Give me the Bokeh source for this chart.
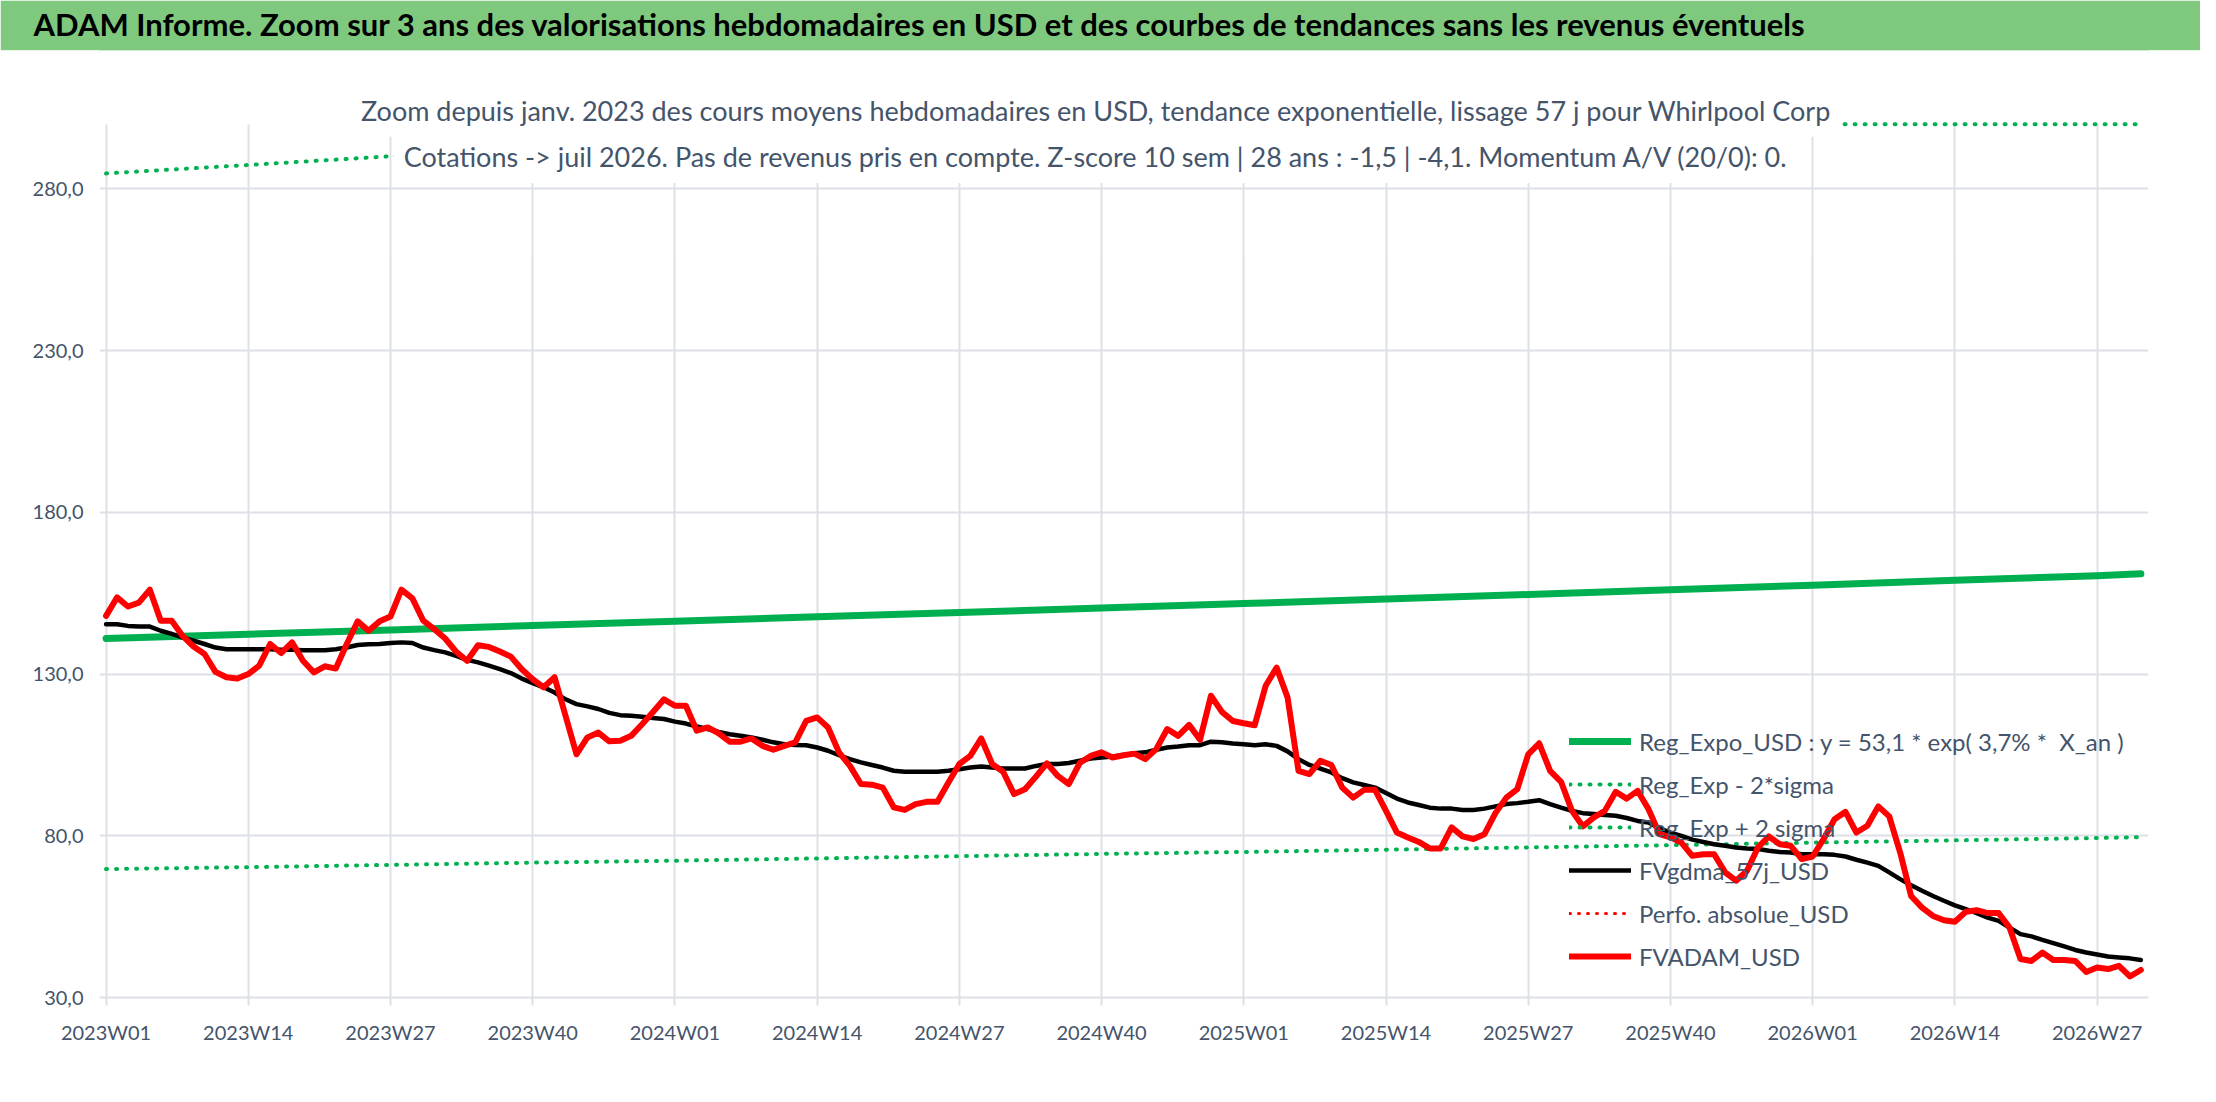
from bokeh.plotting import figure
from bokeh.models import Range1d, Label, Legend, LegendItem, Title
from bokeh.layouts import column
from bokeh.embed import file_html
from bokeh.resources import INLINE

# ---------------- texts ----------------
title_text = ("ADAM Informe. Zoom sur 3 ans des valorisations hebdomadaires en USD "
              "et des courbes de tendances sans les revenus éventuels")
subtitle_1 = ("Zoom depuis janv. 2023 des cours moyens hebdomadaires en USD, tendance "
              "exponentielle, lissage 57 j pour Whirlpool Corp")
subtitle_2 = ("Cotations -> juil 2026. Pas de revenus pris en compte. Z-score 10 sem | "
              "28 ans : -1,5 | -4,1. Momentum A/V (20/0): 0.")

legend_labels = ["Reg_Expo_USD : y = 53,1 * exp( 3,7% *  X_an )",
                 "Reg_Exp - 2*sigma",
                 "Reg_Exp + 2 sigma",
                 "FVgdma_57j_USD",
                 "Perfo. absolue_USD",
                 "FVADAM_USD"]

# ---------------- axes ----------------
week_tick_labels = ["2023W01", "2023W14", "2023W27", "2023W40",
                    "2024W01", "2024W14", "2024W27", "2024W40",
                    "2025W01", "2025W14", "2025W27", "2025W40",
                    "2026W01", "2026W14", "2026W27"]
y_tick_values = [30, 80, 130, 180, 230, 280]
y_tick_labels = ["30,0", "80,0", "130,0", "180,0", "230,0", "280,0"]

# ---------------- series (weekly, from 2023W01) ----------------
fvadam_usd = [
    148.0, 153.7, 150.9, 152.1, 156.1, 146.5, 146.5, 141.8, 138.5, 136.2,
    130.7, 129.0, 128.6, 130.0, 132.6, 139.3, 136.5, 139.8, 134.1, 130.5,
    132.4, 131.7, 139.3, 146.3, 143.4, 146.3, 147.8, 156.1, 153.4, 146.5,
    143.9, 141.0, 136.9, 134.1, 138.9, 138.4, 137.0, 135.4, 131.5, 128.4,
    125.9, 129.0, 117.1, 105.2, 110.4, 111.9, 109.2, 109.4, 110.9, 114.5,
    118.3, 122.2, 120.2, 120.2, 112.5, 113.5, 111.7, 109.1, 109.1, 110.1,
    107.8, 106.6, 107.8, 108.9, 115.5, 116.6, 113.5, 105.8, 101.6, 96.0,
    95.8, 94.9, 88.8, 88.0, 89.8, 90.5, 90.5, 96.5, 102.2, 104.7,
    110.1, 102.2, 99.8, 92.9, 94.4, 98.3, 102.4, 98.5, 96.0, 102.5,
    104.7, 105.8, 104.2, 104.9, 105.4, 103.7, 106.8, 113.0, 110.9, 114.3,
    109.7, 123.3, 118.3, 115.5, 114.8, 114.2, 126.4, 132.0, 122.8, 100.1,
    99.1, 103.2, 101.9, 94.9, 91.8, 94.2, 94.2, 87.7, 81.0, 79.5,
    78.1, 76.1, 76.1, 82.6, 79.8, 79.0, 80.5, 87.0, 91.8, 94.4,
    105.2, 108.6, 100.1, 96.7, 87.7, 82.9, 85.7, 87.7, 93.6, 91.5,
    93.9, 88.2, 80.5, 79.5, 77.9, 73.8, 74.3, 74.3, 68.7, 66.1,
    69.2, 76.4, 79.8, 77.4, 76.9, 72.8, 73.6, 79.0, 85.1, 87.4,
    81.0, 83.1, 89.1, 86.0, 74.8, 61.4, 57.8, 55.2, 53.9, 53.4,
    56.5, 57.0, 56.1, 56.1, 51.6, 41.9, 41.3, 43.9, 41.6, 41.6,
    41.3, 37.9, 39.3, 38.8, 39.8, 36.5, 38.5]

fvgdma_57j_usd = [
    145.4, 145.4, 144.9, 144.7, 144.7, 143.4, 142.4, 141.3, 140.3, 139.3,
    138.2, 137.7, 137.7, 137.7, 137.7, 137.7, 137.5, 137.5, 137.4, 137.4,
    137.4, 137.7, 138.2, 139.0, 139.2, 139.3, 139.6, 139.8, 139.6, 138.2,
    137.4, 136.7, 135.6, 134.4, 133.6, 132.6, 131.5, 130.3, 128.6, 127.2,
    125.9, 124.3, 122.2, 120.7, 120.0, 119.2, 118.0, 117.3, 117.1, 116.8,
    116.4, 116.1, 115.3, 114.7, 113.8, 113.0, 112.1, 111.4, 110.9, 110.4,
    109.7, 108.9, 108.3, 108.1, 108.0, 107.3, 106.3, 104.9, 103.7, 102.7,
    101.9, 101.1, 100.1, 99.8, 99.8, 99.8, 99.8, 100.1, 100.6, 101.1,
    101.4, 101.1, 100.8, 100.8, 100.8, 101.6, 102.2, 102.2, 102.5, 103.2,
    103.9, 104.2, 104.5, 104.9, 105.5, 105.8, 106.6, 107.3, 107.6, 108.0,
    108.0, 109.1, 108.9, 108.5, 108.3, 108.0, 108.3, 107.8, 106.1, 103.7,
    101.9, 100.8, 99.6, 97.8, 96.5, 95.7, 94.9, 93.2, 91.5, 90.3,
    89.5, 88.7, 88.4, 88.4, 88.0, 88.0, 88.4, 89.1, 89.8, 90.1,
    90.5, 91.0, 89.8, 88.7, 87.7, 87.0, 86.7, 86.4, 86.2, 85.5,
    84.6, 84.1, 82.3, 81.0, 80.0, 78.8, 78.1, 77.4, 76.9, 76.4,
    76.1, 75.9, 75.4, 75.0, 74.8, 74.3, 74.3, 74.3, 74.1, 73.6,
    72.6, 71.7, 70.7, 68.7, 66.6, 64.7, 63.0, 61.4, 59.9, 58.5,
    57.3, 56.1, 54.7, 53.7, 51.6, 49.6, 48.9, 47.8, 46.8, 45.8,
    44.7, 43.9, 43.3, 42.7, 42.4, 42.1, 41.6]

# regression curve and bands, read every 13 weeks and at the last week
reg_week_index = [0, 13, 26, 39, 52, 65, 78, 91, 104, 117, 130, 143, 156, 169, 182, 186]
reg_expo_usd = [141.0, 142.3, 143.6, 145.0, 146.3, 147.7, 149.0, 150.4,
                151.8, 153.2, 154.6, 156.1, 157.5, 159.0, 160.4, 161.0]
reg_minus_2sigma = [69.7, 70.3, 71.0, 71.7, 72.3, 73.0, 73.7, 74.4,
                    75.0, 75.7, 76.4, 77.1, 77.9, 78.6, 79.3, 79.6]
reg_plus_2sigma = [284.8, 287.4, 290.1, 292.8, 295.5, 298.2, 300.0, 300.0,
                   300.0, 300.0, 300.0, 300.0, 300.0, 300.0, 300.0, 300.0]
# no visible value for this series in the chart
perfo_week_index = [0]
perfo_absolue_usd = [None]

week_index = list(range(len(fvadam_usd)))
week_tick_index = week_index[::13]

# ---------------- style ----------------
FONT = "Lato"
TEXT_COLOR = "#44546a"
GRID_COLOR = "#dde0e6"
GREEN = "#00b050"
RED = "#ff0000"
HEADER_GREEN = "#7fc97f"

# ---------------- header ----------------
header = figure(width=2200, height=50, x_range=Range1d(0, 1), y_range=Range1d(0, 1),
                x_axis_type=None, y_axis_type=None, output_backend="svg",
                toolbar_location=None, min_border_left=0, min_border_right=0,
                min_border_top=0, min_border_bottom=0)
header.background_fill_color = HEADER_GREEN
header.border_fill_color = HEADER_GREEN
header.outline_line_color = None
header.grid.visible = False
header.add_layout(Title(text=title_text, align="left", offset=-66,
                        vertical_align="middle", standoff=14,
                        text_font=FONT, text_font_style="bold",
                        text_font_size="31px", text_color="black"), "above")

# ---------------- main chart ----------------
p = figure(width=2200, height=1036, x_range=Range1d(-0.6, 186.7),
           y_range=Range1d(30, 322.8), output_backend="svg", toolbar_location=None,
           min_border_left=99, min_border_right=52, min_border_top=0,
           min_border_bottom=89)
p.outline_line_color = None
p.background_fill_color = "white"
p.border_fill_color = "white"

p.xaxis.ticker = week_tick_index
p.xaxis.major_label_overrides = dict(zip(week_tick_index, week_tick_labels))
p.yaxis.ticker = y_tick_values
p.yaxis.major_label_overrides = dict(zip(y_tick_values, y_tick_labels))

for ax in (p.xaxis, p.yaxis):
    ax.major_label_text_font = FONT
    ax.major_label_text_font_size = "20px"
    ax.major_label_text_color = TEXT_COLOR
    ax.minor_tick_line_color = None

p.xaxis.axis_line_color = GRID_COLOR
p.xaxis.axis_line_width = 2
p.xaxis.major_tick_line_color = GRID_COLOR
p.xaxis.major_tick_line_width = 2
p.xaxis.major_tick_out = 8
p.xaxis.major_tick_in = 0
p.xaxis.major_label_standoff = 14

p.yaxis.axis_line_color = None
p.yaxis.major_tick_line_color = None
p.yaxis.major_tick_out = 0
p.yaxis.major_tick_in = 0
p.yaxis.major_label_standoff = 16

p.xgrid.grid_line_color = GRID_COLOR
p.xgrid.grid_line_width = 2
p.ygrid.grid_line_color = GRID_COLOR
p.ygrid.grid_line_width = 2
try:
    p.xgrid.cross_bounds = (30, 300)
except Exception:
    pass

r_reg = p.line(reg_week_index, reg_expo_usd, line_color=GREEN, line_width=7,
               line_cap="round", line_join="round")
r_lo = p.line(reg_week_index, reg_minus_2sigma, line_color=GREEN, line_width=4,
              line_dash="1 9", line_cap="round")
r_hi = p.line(reg_week_index, reg_plus_2sigma, line_color=GREEN, line_width=4,
              line_dash="1 9", line_cap="round")
r_gdma = p.line(week_index, fvgdma_57j_usd, line_color="black", line_width=4.5,
                line_join="round", line_cap="round")
r_perfo = p.line(perfo_week_index, perfo_absolue_usd, line_color=RED, line_width=3,
                 line_dash="1 8", line_cap="round")
r_adam = p.line(week_index, fvadam_usd, line_color=RED, line_width=6,
                line_join="round", line_cap="round")

for txt, yv in ((subtitle_1, 304.3), (subtitle_2, 290.0)):
    p.add_layout(Label(x=90.5, y=yv, text=txt, text_align="center",
                       text_baseline="alphabetic", text_font=FONT,
                       text_font_size="27px", text_color=TEXT_COLOR,
                       background_fill_color="white", padding=10))

legend = Legend(items=[LegendItem(label=legend_labels[0], renderers=[r_reg]),
                       LegendItem(label=legend_labels[1], renderers=[r_lo]),
                       LegendItem(label=legend_labels[2], renderers=[r_hi]),
                       LegendItem(label=legend_labels[3], renderers=[r_gdma]),
                       LegendItem(label=legend_labels[4], renderers=[r_perfo]),
                       LegendItem(label=legend_labels[5], renderers=[r_adam])],
                location=(1470, 26), padding=0, spacing=13, label_height=30,
                glyph_height=30, glyph_width=62, label_standoff=8,
                background_fill_alpha=0, border_line_color=None,
                label_text_font=FONT, label_text_font_size="24px",
                label_text_color=TEXT_COLOR)
p.add_layout(legend)

layout = column(header, p)
open("out.html", "w").write(file_html(layout, INLINE))
